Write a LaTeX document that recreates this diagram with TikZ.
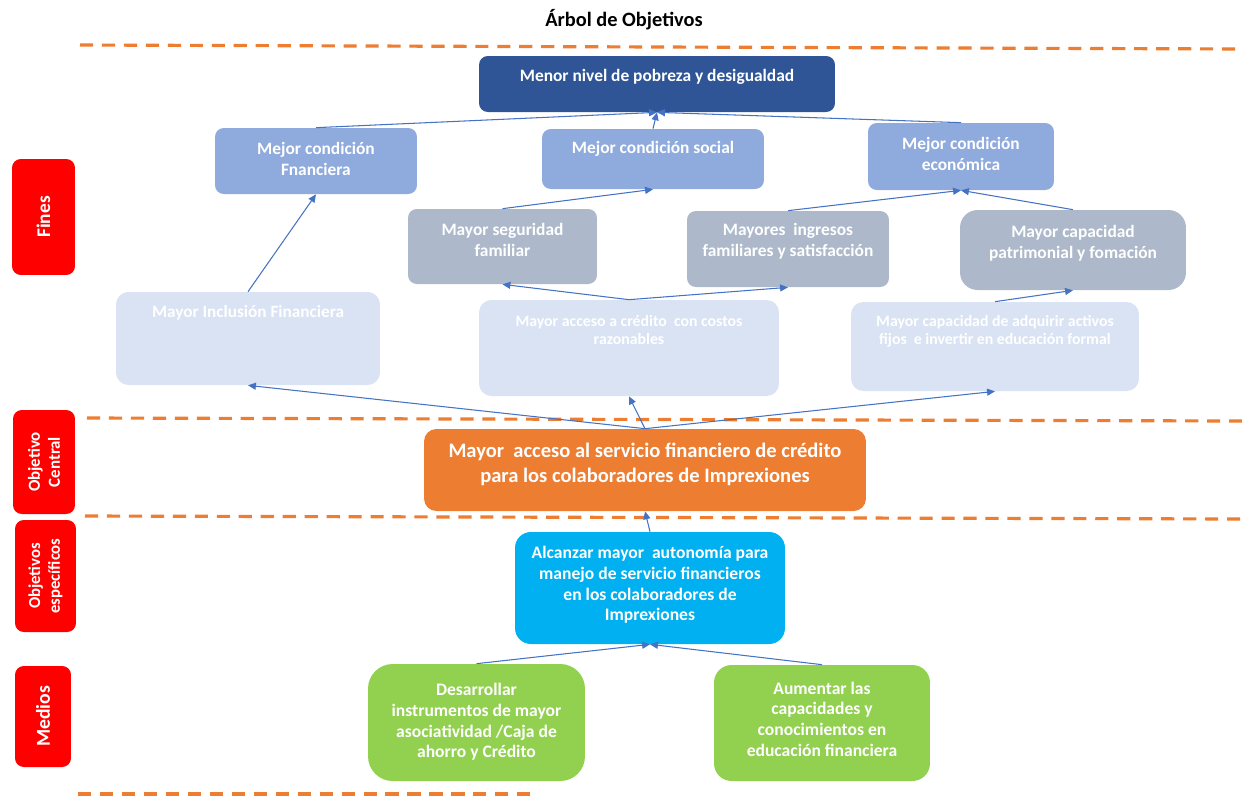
\documentclass[tikz,border=0pt]{standalone}
\usepackage{fontspec}
\setmainfont{Carlito}
\usepackage{tikz}
\usetikzlibrary{arrows.meta, positioning}
\definecolor{dashorange}{RGB}{237,125,49}
\definecolor{labelred}{RGB}{255,0,0}
\definecolor{darkblue}{RGB}{47,85,151}
\definecolor{midblue}{RGB}{143,170,220}
\definecolor{greyblue}{RGB}{173,185,202}
\definecolor{paleblue}{RGB}{218,227,243}
\definecolor{cyanblue}{RGB}{0,176,240}
\definecolor{leafgreen}{RGB}{146,208,80}
\definecolor{arrowblue}{RGB}{68,114,196}
\newcommand{\fsz}[2]{\fontsize{#1}{#2}\selectfont\bfseries}

\begin{document}
\begin{tikzpicture}[x=0.02cm, y=-0.02cm, >={Triangle[length=4.5pt, width=4pt]},
    box/.style={rectangle, rounded corners=5pt, inner sep=0pt},
    side/.style={box, fill=labelred, text=white, align=center, rotate=90},
    txt/.style={text=white, align=center, inner sep=0pt},
    sep/.style={dashorange, line width=1.8pt, dash pattern=on 7.5pt off 5pt},
    link/.style={->, arrowblue, line width=0.6pt}]
    \useasboundingbox (0,0) rectangle (1242,796);

    % Title
    \node[font=\fsz{11.6}{13}] (title) at (624,20) {Árbol de Objetivos};

    % Separators
    \draw[sep] (80,45) -- (1242,49);
    \draw[sep] (87,418) -- (1242,421);
    \draw[sep] (85,516) -- (1242,519);
    \draw[sep] (78,794) -- (530,794);

    % Row labels
    \node[side, minimum width=2.32cm, minimum height=1.26cm, font=\fsz{11}{12}] (lfines) at (43.5,217) {Fines};
    \node[side, minimum width=2.08cm, minimum height=1.24cm, font=\fsz{9.6}{11.3}] (lcentral) at (44,462) {Objetivo\\Central};
    \node[side, minimum width=2.24cm, minimum height=1.22cm, font=\fsz{9.5}{11.3}] (lespec) at (45.5,576) {Objetivos\\específicos};
    \node[side, minimum width=2.02cm, minimum height=1.12cm, font=\fsz{11.2}{12}] (lmedios) at (43,716.5) {Medios};

    % Fines
    \node[box, fill=darkblue, minimum width=7.12cm, minimum height=1.12cm] (top) at (657,84) {};
    \node[txt, font=\fsz{9.9}{12}] (topt) at (657,77) {Menor nivel de pobreza y desigualdad};

    \node[box, fill=midblue, minimum width=4.04cm, minimum height=1.32cm] (fin1) at (316,161) {};
    \node[txt, font=\fsz{9.9}{11.9}] (fin1t) at (316,158.5) {Mejor condición\\Fnanciera};
    \node[box, fill=midblue, minimum width=4.44cm, minimum height=1.2cm] (fin2) at (653,159) {};
    \node[txt, font=\fsz{9.9}{11.9}] (fin2t) at (653,149) {Mejor condición social};
    \node[box, fill=midblue, minimum width=3.72cm, minimum height=1.34cm] (fin3) at (961,156.5) {};
    \node[txt, font=\fsz{9.9}{11.9}] (fin3t) at (961,153.5) {Mejor condición\\económica};

    \node[box, fill=greyblue, minimum width=3.78cm, minimum height=1.5cm] (seg) at (502.5,246.5) {};
    \node[txt, font=\fsz{9.9}{11.9}] (segt) at (502.5,240) {Mayor seguridad\\familiar};
    \node[box, fill=greyblue, minimum width=4.04cm, minimum height=1.52cm] (ing) at (788,249) {};
    \node[txt, font=\fsz{9.9}{11.9}] (ingt) at (788,241.5) {Mayores\ \ ingresos\\familiares y satisfacción};
    \node[box, fill=greyblue, rounded corners=10pt, minimum width=4.52cm, minimum height=1.6cm] (pat) at (1073,250) {};
    \node[txt, font=\fsz{9.9}{11.9}] (patt) at (1073,243.5) {Mayor capacidad\\patrimonial y fomación};

    \node[box, fill=paleblue, rounded corners=7pt, minimum width=5.28cm, minimum height=1.86cm] (incl) at (248,338.5) {};
    \node[txt, font=\fsz{9.8}{11}] (inclt) at (248,313) {Mayor Inclusión Financiera};
    \node[box, fill=paleblue, rounded corners=7pt, minimum width=6cm, minimum height=1.92cm] (cred) at (629,348) {};
    \node[txt, font=\fsz{9}{10.2}] (credt) at (629,330) {Mayor acceso a crédito\ \ con costos\\razonables};
    \node[box, fill=paleblue, rounded corners=7pt, minimum width=5.76cm, minimum height=1.78cm] (adq) at (995,346.5) {};
    \node[txt, font=\fsz{9}{10}] (adqt) at (995,331.5) {Mayor capacidad de adquirir activos\\fijos\ \ e invertir en educación formal};

    % Objetivo central
    \node[box, fill=dashorange, rounded corners=7pt, minimum width=8.84cm, minimum height=1.64cm] (central) at (645,470) {};
    \node[txt, font=\fsz{11.7}{14.2}] (centralt) at (645,464.5) {Mayor\ \ acceso al servicio financiero de crédito\\para los colaboradores de Imprexiones};

    % Objetivo especifico
    \node[box, fill=cyanblue, rounded corners=9pt, minimum width=5.4cm, minimum height=2.24cm] (alc) at (650,588) {};
    \node[txt, font=\fsz{10}{11.8}] (alct) at (650,585) {Alcanzar mayor\ \ autonomía para\\manejo de servicio financieros\\en los colaboradores de\\Imprexiones};

    % Medios
    \node[box, fill=leafgreen, rounded corners=14pt, minimum width=4.34cm, minimum height=2.34cm] (des) at (476.5,722.5) {};
    \node[txt, font=\fsz{10}{11.8}] (dest) at (476.5,722) {Desarrollar\\instrumentos de mayor\\asociatividad /Caja de\\ahorro y Crédito};
    \node[box, fill=leafgreen, rounded corners=10pt, minimum width=4.32cm, minimum height=2.32cm] (aum) at (822,723) {};
    \node[txt, font=\fsz{10}{11.8}] (aumt) at (822,719) {Aumentar las\\capacidades y\\conocimientos en\\educación financiera};

    % Connectors
    \draw[link] (fin1.north) -- (top.south);
    \draw[link] (fin2.north) -- (top.south);
    \draw[link] (fin3.north) -- (top.south);
    \draw[link] (incl.north) -- (fin1.south);
    \draw[link] (seg.north) -- (fin2.south);
    \draw[link] (ing.north) -- (fin3.south);
    \draw[link] (pat.north) -- (fin3.south);
    \draw[link] (cred.north) -- (seg.south);
    \draw[link] (cred.north) -- (ing.south);
    \draw[link] (adq.north) -- (pat.south);
    \draw[link] (central.north) -- (incl.south);
    \draw[link] (central.north) -- (cred.south);
    \draw[link] (central.north) -- (adq.south);
    \draw[link] (alc.north) -- (central.south);
    \draw[link] (des.north) -- (alc.south);
    \draw[link] (aum.north) -- (alc.south);
\end{tikzpicture}
\end{document}
